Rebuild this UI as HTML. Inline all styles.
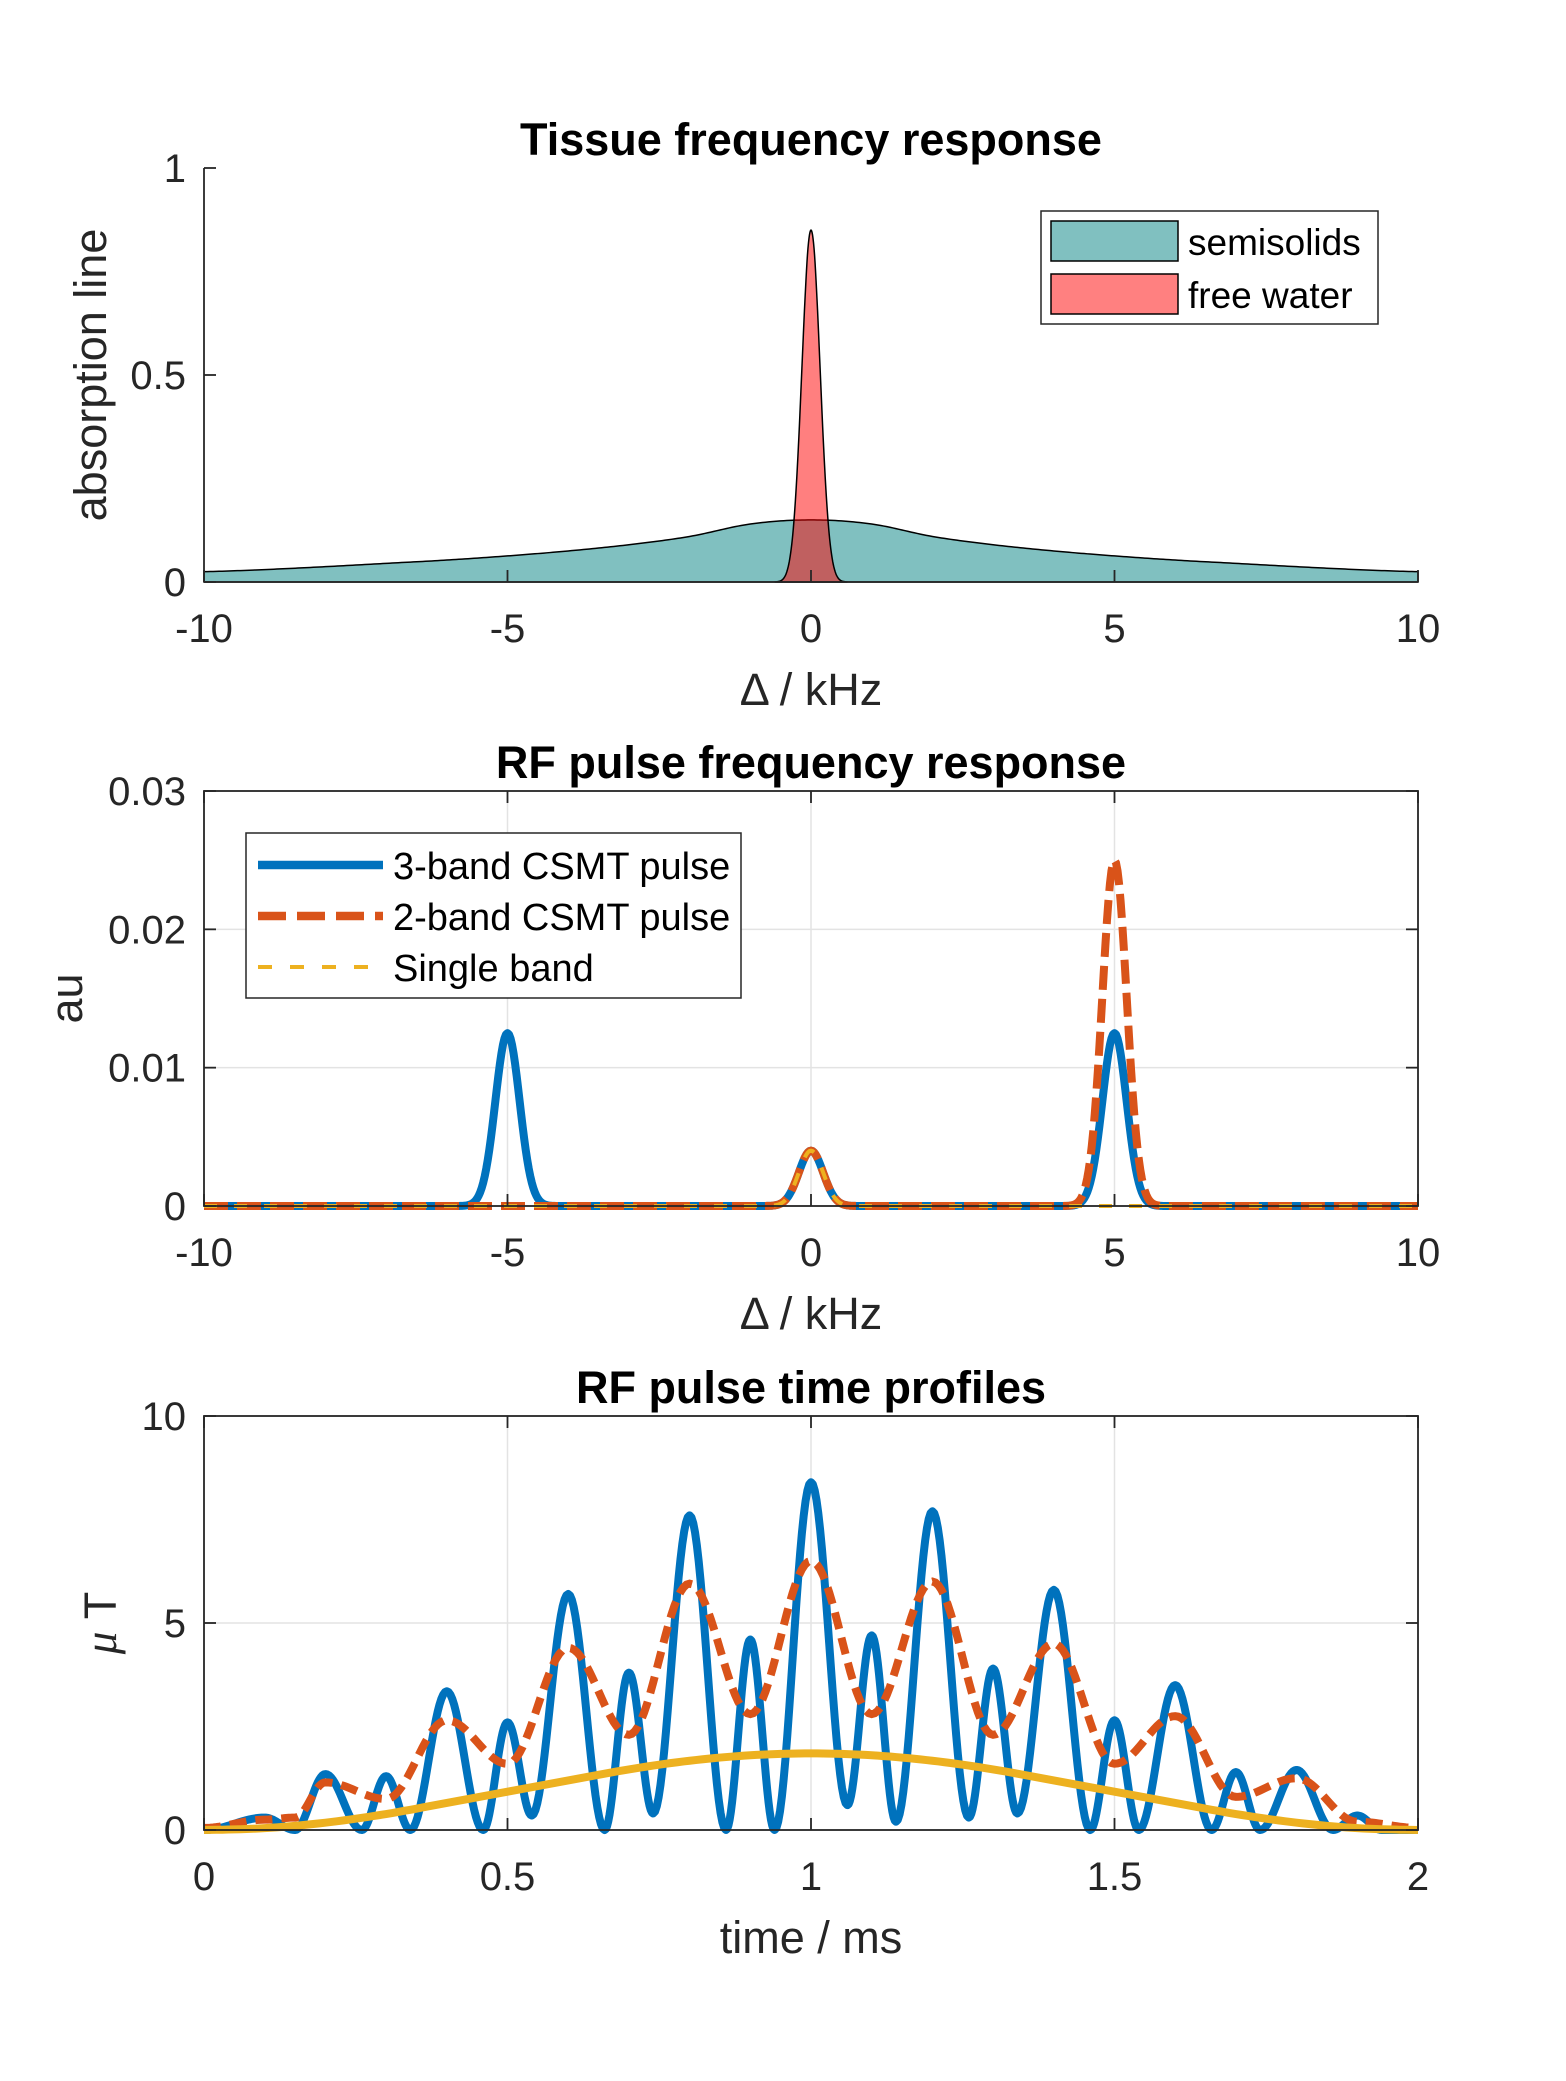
<!DOCTYPE html>
<html><head><meta charset="utf-8"><style>
html,body{margin:0;padding:0;background:#fff}
svg{display:block}
text{font-family:"Liberation Sans",Arial,sans-serif;fill:#262626}
</style></head><body>
<svg id="fig" width="1566" height="2081" viewBox="0 0 1566 2081" xmlns="http://www.w3.org/2000/svg">
<rect width="1566" height="2081" fill="#fff"/>
<g id="p1"></g>
<g id="p2"></g>
<g id="p3"></g>
</svg>
<script>
// ---- Panel 1 data ----
const ssX = [-10,-9,-8,-7,-6,-5,-4,-3,-2,-1,0,1,2,3,4,5,6,7,8,9,10];
const ssY = [0.025,0.03,0.037,0.045,0.053,0.063,0.075,0.09,0.11,0.14,0.15,0.14,0.11,0.09,0.075,0.063,0.053,0.045,0.037,0.03,0.025];
const fwX = [-0.6,-0.55,-0.5,-0.45,-0.4,-0.35,-0.3,-0.25,-0.2,-0.15,-0.1,-0.05,0,0.05,0.1,0.15,0.2,0.25,0.3,0.35,0.4,0.45,0.5,0.55,0.6];
const fwY = [0,0.001,0.003,0.009,0.024,0.056,0.115,0.213,0.35,0.516,0.68,0.806,0.85,0.806,0.68,0.516,0.35,0.213,0.115,0.056,0.024,0.009,0.003,0.001,0];
const p1XTicks = [-10,-5,0,5,10];
const p1YTicks = [0,0.5,1];
const p1YLabels = ["0","0.5","1"];
// ---- Panel 2 data ----
const band3Centers = [-5,0,5];
const band3Amps = [0.0125,0.004,0.0125];
const band2Centers = [0,5];
const band2Amps = [0.004,0.025];
const band1Centers = [0];
const band1Amps = [0.004];
const p2XTicks = [-10,-5,0,5,10];
const p2YTicks = [0,0.01,0.02,0.03];
const p2YLabels = ["0","0.01","0.02","0.03"];
// ---- Panel 3 data (extrema) ----
const blueT = [0,0.1,0.15,0.2,0.26,0.3,0.34,0.4,0.46,0.5,0.54,0.6,0.66,0.7,0.74,0.8,0.86,0.9,0.94,1.0,1.06,1.1,1.14,1.2,1.26,1.3,1.34,1.4,1.46,1.5,1.54,1.6,1.66,1.7,1.74,1.8,1.86,1.9,1.94,2.0];
const blueV = [0,0.3,0,1.35,0,1.3,0,3.35,0,2.6,0.35,5.7,0,3.8,0.4,7.6,0,4.6,0,8.4,0.6,4.7,0.2,7.7,0.3,3.9,0.4,5.8,0,2.65,0,3.5,0,1.4,0,1.45,0,0.35,0,0];
const redT = [0,0.1,0.15,0.2,0.3,0.4,0.5,0.6,0.7,0.8,0.9,1.0,1.1,1.2,1.3,1.4,1.5,1.6,1.7,1.8,1.9,2.0];
const redV = [0.05,0.25,0.3,1.15,0.75,2.65,1.6,4.4,2.3,5.95,2.8,6.5,2.8,6.0,2.3,4.5,1.6,2.75,0.8,1.25,0.2,0.05];
const yelT = [0,0.1,0.2,0.3,0.4,0.5,0.6,0.7,0.8,0.9,1.0,1.1,1.2,1.3,1.4,1.5,1.6,1.7,1.8,1.9,2.0];
const yelV = [0,0.045,0.177,0.386,0.654,0.925,1.196,1.464,1.673,1.805,1.85,1.805,1.673,1.464,1.196,0.925,0.654,0.386,0.177,0.045,0];
const p3XTicks = [0,0.5,1,1.5,2];
const p3XLabels = ["0","0.5","1","1.5","2"];
const p3YTicks = [0,5,10];

const NS="http://www.w3.org/2000/svg";
function mk(parent,tag,attrs,txt){const e=document.createElementNS(NS,tag);for(const k in attrs)e.setAttribute(k,attrs[k]);if(txt!==undefined)e.textContent=txt;parent.appendChild(e);return e;}
function scale(d0,d1,r0,r1){return v=>r0+(v-d0)/(d1-d0)*(r1-r0);}
function catmull(xs,ys,n){const out=[];for(let i=0;i<xs.length-1;i++){const y0=ys[Math.max(i-1,0)],y1=ys[i],y2=ys[i+1],y3=ys[Math.min(i+2,ys.length-1)];for(let k=0;k<n;k++){const t=k/n;const y=0.5*((2*y1)+(-y0+y2)*t+(2*y0-5*y1+4*y2-y3)*t*t+(-y0+3*y1-3*y2+y3)*t*t*t);out.push([xs[i]+(xs[i+1]-xs[i])*t,y]);}}out.push([xs[xs.length-1],ys[ys.length-1]]);return out;}
function cosInterp(xs,ys,n){const out=[];for(let i=0;i<xs.length-1;i++){for(let k=0;k<n;k++){const s=k/n;out.push([xs[i]+(xs[i+1]-xs[i])*s,ys[i]+(ys[i+1]-ys[i])*(1-Math.cos(Math.PI*s))/2]);}}out.push([xs[xs.length-1],ys[ys.length-1]]);return out;}
function gaussSum(cs,as,sig,x0,x1,n){const out=[];for(let i=0;i<=n;i++){const x=x0+(x1-x0)*i/n;let y=0;for(let j=0;j<cs.length;j++)y+=as[j]*Math.exp(-(x-cs[j])*(x-cs[j])/(2*sig*sig));out.push([x,y]);}return out;}
function pathD(pts,sx,sy){return pts.map((p,i)=>(i?'L':'M')+sx(p[0]).toFixed(2)+' '+sy(p[1]).toFixed(2)).join(' ');}

const X0=204,X1=1418;
function axesCommon(g,yTop,yBot,xd,yd,xt,xl,yt,yl,grid,title,xlabel,ylabel,ylx){
  const sx=scale(xd[0],xd[1],X0,X1), sy=scale(yd[0],yd[1],yBot,yTop);
  if(grid){
    xt.forEach(v=>{const l=mk(g,'line',{x1:sx(v),x2:sx(v),y1:yTop,y2:yBot,stroke:'#e3e3e3','stroke-width':1.5});
      
      });
    yt.forEach(v=>{const l=mk(g,'line',{x1:X0,x2:X1,y1:sy(v),y2:sy(v),stroke:'#e3e3e3','stroke-width':1.5});
      
      });
  }
  const t=mk(g,'text',{x:(X0+X1)/2,y:yTop-13,'text-anchor':'middle','font-size':45,'font-weight':'bold',style:'fill:#000'},title);
  
  
  xt.forEach((v,i)=>{const e=mk(g,'text',{x:sx(v),y:yBot+60,'text-anchor':'middle','font-size':40},xl[i]);
    
    });
  yt.forEach((v,i)=>{const e=mk(g,'text',{x:186,y:sy(v)+14,'text-anchor':'end','font-size':40},yl[i]);
    
    });
  const xe=mk(g,'text',{x:(X0+X1)/2,y:yBot+123,'text-anchor':'middle','font-size':45},xlabel);
  
  
  if(ylabel){
    const yc=(yTop+yBot)/2;
    const ye=mk(g,'text',{x:ylx,y:yc,'text-anchor':'middle','font-size':45,transform:`rotate(-90 ${ylx} ${yc})`},ylabel);
    
    
  }
  return {sx,sy};
}
function drawAxes(g,yTop,yBot,sx,sy,xt,yt,box){
  const ax=mk(g,'g',{});
  
  
  const st={stroke:'#262626','stroke-width':1.8,fill:'none'};
  if(box){mk(ax,'rect',Object.assign({x:X0,y:yTop,width:X1-X0,height:yBot-yTop},st));}
  else{mk(ax,'line',Object.assign({x1:X0,x2:X0,y1:yTop,y2:yBot},st));mk(ax,'line',Object.assign({x1:X0,x2:X1,y1:yBot,y2:yBot},st));}
  xt.forEach(v=>{mk(ax,'line',Object.assign({x1:sx(v),x2:sx(v),y1:yBot,y2:yBot-12},st));if(box)mk(ax,'line',Object.assign({x1:sx(v),x2:sx(v),y1:yTop,y2:yTop+12},st));});
  yt.forEach(v=>{mk(ax,'line',Object.assign({x1:X0,x2:X0+12,y1:sy(v),y2:sy(v)},st));if(box)mk(ax,'line',Object.assign({x1:X1,x2:X1-12,y1:sy(v),y2:sy(v)},st));});
}

// ---------- Panel 1 ----------
(function(){
  const g=document.getElementById('p1');const yTop=168,yBot=582;
  const {sx,sy}=axesCommon(g,yTop,yBot,[-10,10],[0,1],p1XTicks,p1XTicks.map(String),p1YTicks,p1YLabels,false,'Tissue frequency response','\u0394 / kHz','absorption line',106);
  const ss=catmull(ssX,ssY,20);
  const a=mk(g,'path',{d:pathD(ss,sx,sy)+` L ${sx(10)} ${sy(0)} L ${sx(-10)} ${sy(0)} Z`,fill:'rgb(128,192,192)',stroke:'#000','stroke-width':1.5});
  
  
  const fw=catmull(fwX,fwY,6);
  const b=mk(g,'path',{d:pathD(fw,sx,sy)+' Z',fill:'rgba(255,0,0,0.5)',stroke:'#000','stroke-width':1.5});
  
  
  drawAxes(g,yTop,yBot,sx,sy,p1XTicks,p1YTicks,false);
  const lg=mk(g,'g',{});
  
  
  mk(lg,'rect',{x:1041,y:211,width:337,height:113,fill:'#fff',stroke:'#262626','stroke-width':1.5});
  mk(lg,'rect',{x:1051,y:221,width:127,height:40,fill:'rgb(128,192,192)',stroke:'#000','stroke-width':1.5});
  mk(lg,'rect',{x:1051,y:274,width:127,height:40,fill:'rgb(255,128,128)',stroke:'#000','stroke-width':1.5});
  const t1=mk(lg,'text',{x:1188,y:255,'font-size':37,style:'fill:#000'},'semisolids');
  
  
  const t2=mk(lg,'text',{x:1188,y:308,'font-size':37,style:'fill:#000'},'free water');
  
  
})();

// ---------- Panel 2 ----------
(function(){
  const g=document.getElementById('p2');const yTop=791,yBot=1206;
  const {sx,sy}=axesCommon(g,yTop,yBot,[-10,10],[0,0.03],p2XTicks,p2XTicks.map(String),p2YTicks,p2YLabels,true,'RF pulse frequency response','\u0394 / kHz','au',82);
  const sig=0.2;
  const l1=mk(g,'path',{d:pathD(gaussSum(band3Centers,band3Amps,sig,-10,10,800),sx,sy),fill:'none',stroke:'#0072BD','stroke-width':8,'stroke-linejoin':'round'});
  
  
  const l2=mk(g,'path',{d:pathD(gaussSum(band2Centers,band2Amps,sig,-10,10,800),sx,sy),fill:'none',stroke:'#D95319','stroke-width':8,'stroke-dasharray':'24 9'});
  
  
  const l3=mk(g,'path',{d:pathD(gaussSum(band1Centers,band1Amps,sig,-10,10,800),sx,sy),fill:'none',stroke:'#EDB120','stroke-width':4,'stroke-dasharray':'13 17'});
  
  
  drawAxes(g,yTop,yBot,sx,sy,p2XTicks,p2YTicks,true);
  const lg=mk(g,'g',{});
  
  
  mk(lg,'rect',{x:246,y:833,width:495,height:165,fill:'#fff',stroke:'#262626','stroke-width':1.5});
  mk(lg,'line',{x1:258,x2:383,y1:865,y2:865,stroke:'#0072BD','stroke-width':8.5});
  mk(lg,'line',{x1:258,x2:383,y1:916,y2:916,stroke:'#D95319','stroke-width':8.5,'stroke-dasharray':'28 11'});
  mk(lg,'line',{x1:258,x2:383,y1:967,y2:967,stroke:'#EDB120','stroke-width':4,'stroke-dasharray':'14 18'});
  const names=['3-band CSMT pulse','2-band CSMT pulse','Single band'];
  [865,916,967].forEach((y,i)=>{const t=mk(lg,'text',{x:393,y:y+14,'font-size':38,style:'fill:#000'},names[i]);
    
    });
})();

// ---------- Panel 3 ----------
(function(){
  const g=document.getElementById('p3');const yTop=1416,yBot=1830;
  const {sx,sy}=axesCommon(g,yTop,yBot,[0,2],[0,10],p3XTicks,p3XLabels,p3YTicks,p3YTicks.map(String),true,'RF pulse time profiles','time / ms','',0);
  const ml=mk(g,'text',{x:116,y:1623,'text-anchor':'middle','font-size':45,transform:'rotate(-90 116 1623)'});
  
  
  mk(ml,'tspan',{'font-style':'italic','font-family':'"Liberation Serif",serif'},'\u03bc');
  mk(ml,'tspan',{},' T');
  const l1=mk(g,'path',{d:pathD(cosInterp(blueT,blueV,20),sx,sy),fill:'none',stroke:'#0072BD','stroke-width':8,'stroke-linejoin':'round'});
  
  
  const l2=mk(g,'path',{d:pathD(cosInterp(redT,redV,20),sx,sy),fill:'none',stroke:'#D95319','stroke-width':8,'stroke-dasharray':'17 9'});
  
  
  const l3=mk(g,'path',{d:pathD(catmull(yelT,yelV,10),sx,sy),fill:'none',stroke:'#EDB120','stroke-width':8});
  
  
  drawAxes(g,yTop,yBot,sx,sy,p3XTicks,p3YTicks,true);
})();
</script>
</body></html>
